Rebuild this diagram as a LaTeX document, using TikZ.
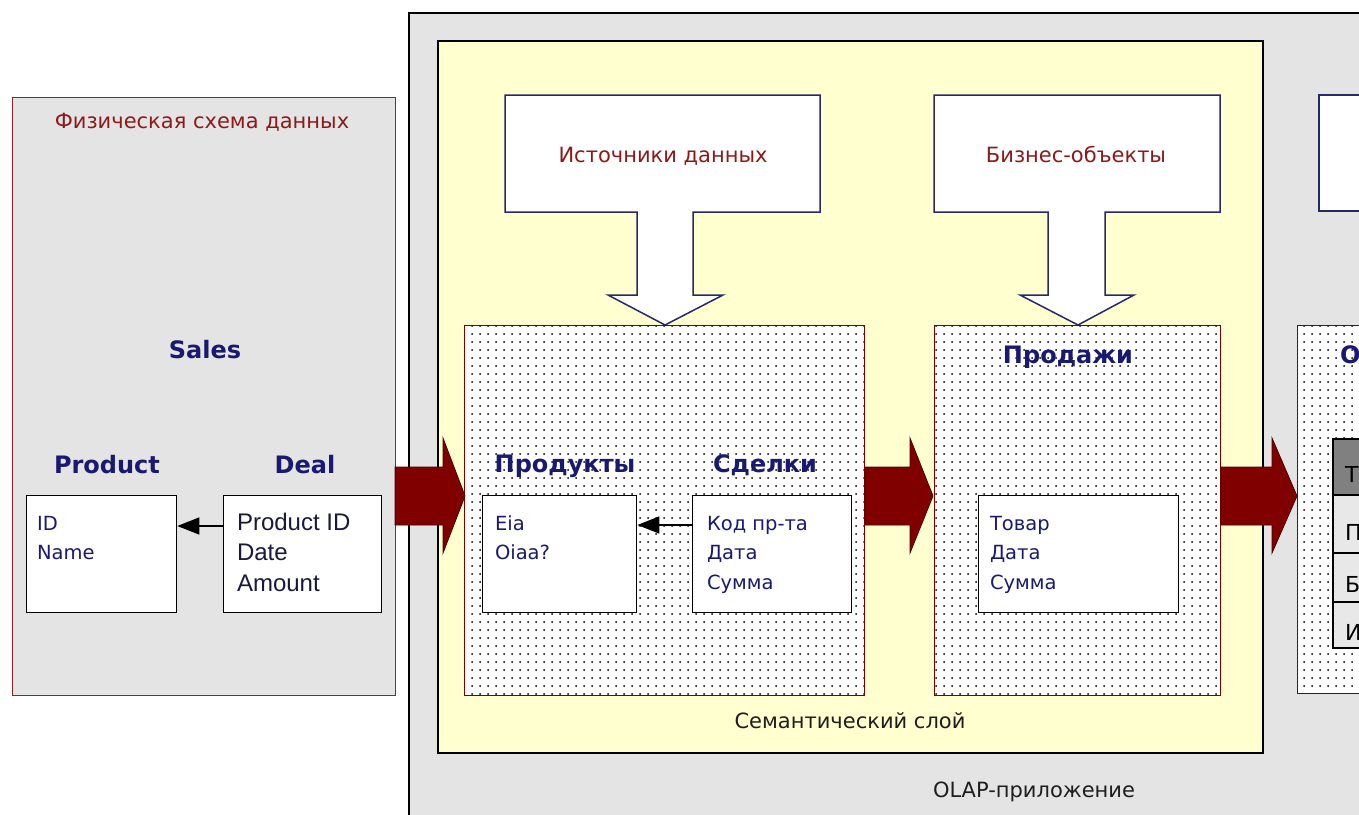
\documentclass[tikz,border=0pt]{standalone}
\usepackage{fontspec}
\setmainfont{DejaVu Sans}
\newfontfamily\arialfam{Liberation Sans}
\usetikzlibrary{patterns.meta,arrows.meta}
\definecolor{bggray}{RGB}{228,228,228}
\definecolor{semyellow}{RGB}{255,255,208}
\definecolor{ttlred}{RGB}{140,26,26}
\definecolor{arrred}{RGB}{128,0,0}
\definecolor{arrdark}{RGB}{70,0,0}
\definecolor{navytxt}{RGB}{25,25,112}
\definecolor{boxnavy}{RGB}{40,40,100}
\definecolor{panelred}{RGB}{150,35,35}
\definecolor{hdrgray}{RGB}{128,128,128}
\definecolor{rowgray}{RGB}{232,232,232}
\newcommand\myTitleFont{\fontsize{21pt}{25pt}\selectfont}
\newcommand\myHeadFont{\fontsize{24pt}{28pt}\selectfont\bfseries}
\newcommand\myBodyFont{\fontsize{19.5pt}{23pt}\selectfont}
\newcommand\myArialFont{\arialfam\fontsize{24pt}{28pt}\selectfont}
\begin{document}
\begin{tikzpicture}[x=1pt,y=-1pt,
  txt/.style={inner sep=0pt,outer sep=0pt},
  ttl/.style={txt,anchor=base,text=ttlred,font=\myTitleFont},
  hdg/.style={txt,anchor=base,text=navytxt,font=\myHeadFont},
  fld/.style={txt,anchor=base west,text=navytxt,font=\myBodyFont},
  afld/.style={txt,anchor=base west,text={rgb,255:red,25;green,25;blue,60},font=\myArialFont},
  captxt/.style={txt,anchor=base,text={rgb,255:red,30;green,30;blue,30},font=\myTitleFont},
  tbl/.style={draw=black,line width=1.3pt,fill=white,inner sep=0pt,anchor=north west},
  dbox/.style={draw=arrred,line width=1.2pt,inner sep=0pt,anchor=north west,
    preaction={fill=white},pattern={Dots[distance=8pt,radius=1pt]},pattern color=black},
  callout/.style={draw=boxnavy,line width=1.5pt,fill=white,line join=miter},
  bigarr/.style={fill=arrred,draw=arrdark,line width=0.8pt,line join=miter},
  fk/.style={line width=1.4pt,-{Triangle[length=22pt,width=17pt]}}]
\useasboundingbox (0,0) rectangle (1359,814);
\clip (0,0) rectangle (1359,814);
\fill[white] (0,0) rectangle (1359,814);

% physical schema panel
\node[draw=panelred,fill=bggray,line width=1.4pt,inner sep=0pt,anchor=north west,
  minimum width=383pt,minimum height=598pt] (phys) at (12,97) {};
% OLAP application
\node[draw=black,fill=bggray,line width=1.5pt,inner sep=0pt,anchor=north west,
  minimum width=1000pt,minimum height=840pt] (olap) at (408,12) {};
% semantic layer
\node[draw=black,fill=semyellow,line width=1.5pt,inner sep=0pt,anchor=north west,
  minimum width=825pt,minimum height=712pt] (sem) at (437,40) {};

% callouts
\draw[callout] (505,95) -- (820,95) -- (820,212) -- (693,212) -- (693,295) -- (723,295)
  -- (665,325) -- (608,295) -- (637,295) -- (637,212) -- (505,212) -- cycle;
\draw[callout] (934,95) -- (1220,95) -- (1220,212) -- (1105,212) -- (1105,295) -- (1134,295)
  -- (1078,325) -- (1020,295) -- (1048,295) -- (1048,212) -- (934,212) -- cycle;
\draw[callout] (1380,95) -- (1319,95) -- (1319,211) -- (1380,211);
\node[ttl] (srcttl) at (663,162) {Источники данных};
\node[ttl] (bizttl) at (1076,162) {Бизнес-объекты};

% dotted boxes
\node[dbox,minimum width=400pt,minimum height=370pt] (dA) at (464,325) {};
\node[dbox,minimum width=286pt,minimum height=370pt] (dB) at (934,325) {};
\node[dbox,minimum width=100pt,minimum height=368pt] (dC) at (1297,325) {};

% table in third box
\draw[black,line width=1.2pt,fill=hdrgray] (1333,439) rectangle (1380,495);
\draw[black,line width=1.2pt,fill=rowgray] (1333,495) rectangle (1380,553);
\draw[black,line width=1.2pt,fill=rowgray] (1333,553) rectangle (1380,602);
\draw[black,line width=1.2pt,fill=rowgray] (1333,602) rectangle (1380,648);
\node[txt,anchor=base west,font=\fontsize{22pt}{26pt}\selectfont,text=black] (t1) at (1345,482) {Т};
\node[txt,anchor=base west,font=\fontsize{22pt}{26pt}\selectfont,text=black] (t2) at (1345,540) {П};
\node[txt,anchor=base west,font=\fontsize{22pt}{26pt}\selectfont,text=black] (t3) at (1345,592) {Б};
\node[txt,anchor=base west,font=\fontsize{22pt}{26pt}\selectfont,text=black] (t4) at (1345,640) {И};
\node[hdg,anchor=base west] (olapcube) at (1340,363) {О};

% physical tables
\node[tbl,minimum width=150pt,minimum height=117pt] (prod) at (26,495) {};
\node[tbl,minimum width=158pt,minimum height=117pt] (deal) at (223,495) {};
\draw[fk] ([yshift=-31pt]deal.north west) -- ([yshift=-31pt]prod.north east);

% semantic tables
\node[tbl,minimum width=154pt,minimum height=117pt] (sprod) at (482,495) {};
\node[tbl,minimum width=159pt,minimum height=117pt] (sdeal) at (692,495) {};
\draw[fk] ([yshift=-30pt]sdeal.north west) -- ([yshift=-30pt]sprod.north east);

% business object table
\node[tbl,minimum width=200pt,minimum height=117pt] (sales) at (978,495) {};

% big red arrows
\filldraw[bigarr] (395,467) -- (443,467) -- (443,438) -- (465,496) -- (443,553) -- (443,525) -- (395,525) -- cycle;
\filldraw[bigarr] (865,467) -- (910,467) -- (910,438) -- (933,496) -- (910,553) -- (910,525) -- (865,525) -- cycle;
\filldraw[bigarr] (1221,467) -- (1272,467) -- (1272,438) -- (1297,496) -- (1272,553) -- (1272,525) -- (1221,525) -- cycle;

% texts: physical schema
\node[ttl] (physttl) at (202,128) {Физическая схема данных};
\node[hdg] (salesh) at (205,358) {Sales};
\node[hdg] (prodh) at (107,473) {Product};
\node[hdg] (dealh) at (305,473) {Deal};
\node[fld] (f1) at (37,530) {ID};
\node[fld] (f2) at (37,559) {Name};
\node[afld] (f3) at (237,530) {Product ID};
\node[afld] (f4) at (237,560) {Date};
\node[afld] (f5) at (237,591) {Amount};

% texts: semantic sources
\node[hdg] (sprodh) at (565,472) {Продукты};
\node[hdg] (sdealh) at (765,472) {Сделки};
\node[fld] (g1) at (495,530) {Eia};
\node[fld] (g2) at (495,559) {Oiaa?};
\node[fld] (g3) at (707,530) {Код пр-та};
\node[fld] (g4) at (707,559) {Дата};
\node[fld] (g5) at (707,589) {Сумма};

% texts: business objects
\node[hdg] (salesrh) at (1068,363) {Продажи};
\node[fld] (h1) at (990,530) {Товар};
\node[fld] (h2) at (990,559) {Дата};
\node[fld] (h3) at (990,589) {Сумма};

% captions
\node[captxt] (semcap) at (850,728) {Семантический слой};
\node[captxt] (olapcap) at (1034,797) {OLAP-приложение};
\end{tikzpicture}
\end{document}
